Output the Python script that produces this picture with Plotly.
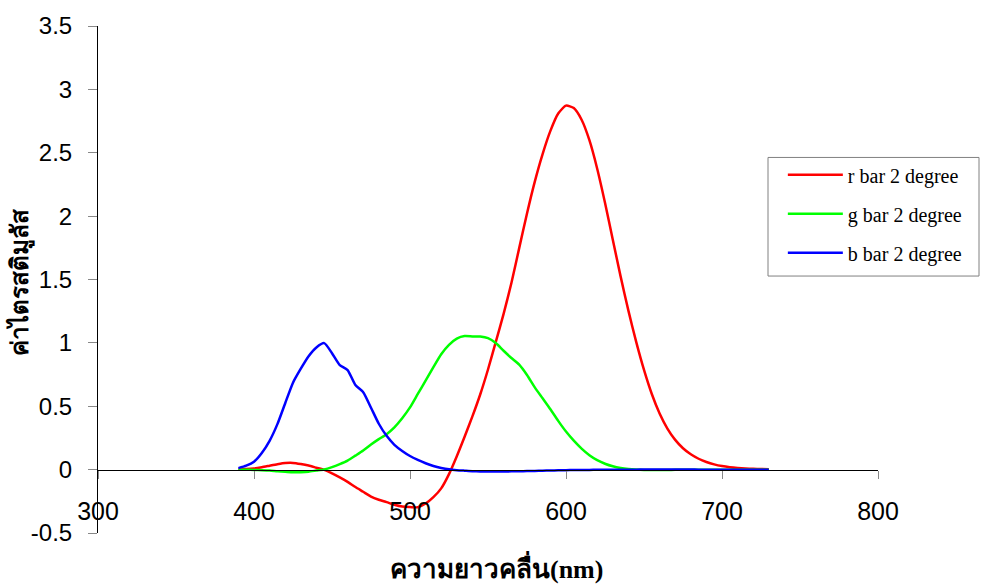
import plotly.graph_objects as go

wavelength = list(range(390, 735, 5))

r_bar = [0.0018, 0.0046, 0.0096, 0.0190, 0.0308, 0.0425, 0.0517, 0.0528, 0.0443, 0.0322,
         0.0148, -0.0023, -0.0291, -0.0607, -0.0962, -0.1376, -0.1749, -0.2126, -0.2378, -0.2567,
         -0.2773, -0.2913, -0.2950, -0.2971, -0.2676, -0.2173, -0.1477, -0.0352, 0.1061, 0.2598,
         0.4198, 0.5926, 0.7900, 1.0078, 1.2283, 1.4727, 1.7476, 2.0214, 2.2724, 2.4896,
         2.6725, 2.8093, 2.8717, 2.8525, 2.7601, 2.5989, 2.3743, 2.1054, 1.8145, 1.5247,
         1.2543, 1.0076, 0.7864, 0.5966, 0.4432, 0.3241, 0.2346, 0.1688, 0.1209, 0.0858,
         0.0603, 0.0415, 0.0281, 0.0191, 0.0133, 0.0094, 0.0065, 0.0045, 0.0032]

g_bar = [-0.0005, -0.0010, -0.0022, -0.0044, -0.0072, -0.0126, -0.0167, -0.0212, -0.0199, -0.0161,
         -0.0073, 0.0014, 0.0196, 0.0435, 0.0710, 0.1102, 0.1509, 0.1979, 0.2404, 0.2799,
         0.3335, 0.4052, 0.4906, 0.5967, 0.7018, 0.8085, 0.9108, 0.9848, 1.0339, 1.0538,
         1.0512, 1.0498, 1.0368, 0.9983, 0.9378, 0.8804, 0.8284, 0.7469, 0.6493, 0.5632,
         0.4768, 0.3848, 0.3007, 0.2285, 0.1658, 0.1137, 0.0747, 0.0465, 0.0263, 0.0127,
         0.0045, 0.0001, -0.0020, -0.0026, -0.0026, -0.0023, -0.0019, -0.0014, -0.0011, -0.0008,
         -0.0006, -0.0004, -0.0003, -0.0002, -0.0001, -0.0001, -0.0001, 0.0000, 0.0000]

b_bar = [0.0122, 0.0311, 0.0624, 0.1316, 0.2275, 0.3590, 0.5240, 0.6859, 0.7960, 0.8946,
         0.9640, 0.9981, 0.9188, 0.8249, 0.7855, 0.6672, 0.6110, 0.4883, 0.3620, 0.2663,
         0.1959, 0.1473, 0.1075, 0.0767, 0.0502, 0.0288, 0.0133, 0.0021, -0.0042, -0.0083,
         -0.0122, -0.0140, -0.0147, -0.0149, -0.0146, -0.0138, -0.0127, -0.0114, -0.0099, -0.0084,
         -0.0070, -0.0057, -0.0043, -0.0029, -0.0023, -0.0020, -0.0015, -0.0009, -0.0006, -0.0003,
         -0.0001, 0.0000, 0.0001, 0.0002, 0.0002, 0.0002, 0.0002, 0.0001, 0.0001, 0.0000,
         0.0000, 0.0000, 0.0000, 0.0000, 0.0000, 0.0000, 0.0000, 0.0000, 0.0000]

series_names = ["r bar 2 degree", "g bar 2 degree", "b bar 2 degree"]
series_colors = ["#FF0000", "#00FF00", "#0000FF"]

x_tick_vals = [300, 400, 500, 600, 700, 800]
x_tick_text = ["300", "400", "500", "600", "700", "800"]
y_tick_vals = [-0.5, 0, 0.5, 1, 1.5, 2, 2.5, 3, 3.5]
y_tick_text = ["-0.5", "0", "0.5", "1", "1.5", "2", "2.5", "3", "3.5"]

x_title = "ความยาวคลื่น<b>(nm)</b>"
y_title = "ค่าไตรสติมูลัส"

fig = go.Figure()
for i, (vals, name, col) in enumerate(zip([r_bar, g_bar, b_bar], series_names, series_colors)):
    fig.add_trace(go.Scatter(
        x=wavelength, y=vals, mode="lines", name=name,
        legendgroup=f"g{i}",
        line=dict(color=col, width=2.5, shape="spline", smoothing=0.6),
    ))

fig.update_layout(
    width=985, height=588,
    margin=dict(l=98, r=107, t=20, b=55),
    paper_bgcolor="white", plot_bgcolor="white",
    font=dict(family="Liberation Sans, Arial", size=24, color="black"),
    showlegend=True,
    legend=dict(
        x=0.878, y=0.745, xanchor="left", yanchor="top",
        bgcolor="rgba(0,0,0,0)", borderwidth=0,
        font=dict(family="Liberation Serif, Times New Roman", size=20, color="black"),
        tracegroupgap=10, itemwidth=55,
    ),
    xaxis=dict(
        range=[300, 800], tickvals=x_tick_vals, ticktext=x_tick_text,
        showgrid=False, zeroline=False,
        showline=True, linecolor="black", linewidth=1,
        ticks="outside", ticklen=8, tickcolor="#888888",
        anchor="free", position=0.125,
        ticklabelstandoff=11,
        tickfont=dict(size=25),
    ),
    yaxis=dict(
        range=[-0.5, 3.5], tickvals=y_tick_vals, ticktext=y_tick_text,
        showgrid=False, zeroline=False,
        showline=True, linecolor="black", linewidth=1,
        ticks="outside", ticklen=9, tickcolor="#888888",
        ticklabelstandoff=11,
        tickfont=dict(size=24),
    ),
    shapes=[dict(
        type="rect", xref="paper", yref="paper",
        x0=(768 - 98) / 780, x1=(979 - 98) / 780,
        y0=(533 - 273) / 513, y1=(533 - 153) / 513,
        line=dict(color="#808080", width=1), fillcolor="rgba(0,0,0,0)",
    )],
    annotations=[
        dict(text=f"<b>{y_title}</b>", xref="paper", yref="paper",
             x=(20 - 98) / 780, y=(533 - 280) / 513, textangle=-90,
             showarrow=False, xanchor="center", yanchor="middle",
             font=dict(family="Liberation Serif, Times New Roman", size=24, color="black")),
        dict(text=f"<b>{x_title}</b>", xref="paper", yref="paper",
             x=(497 - 98) / 780, y=(533 - 567) / 513,
             showarrow=False, xanchor="center", yanchor="middle",
             font=dict(family="Liberation Serif, Times New Roman", size=26, color="black")),
    ],
)

fig.write_html("out.html")
